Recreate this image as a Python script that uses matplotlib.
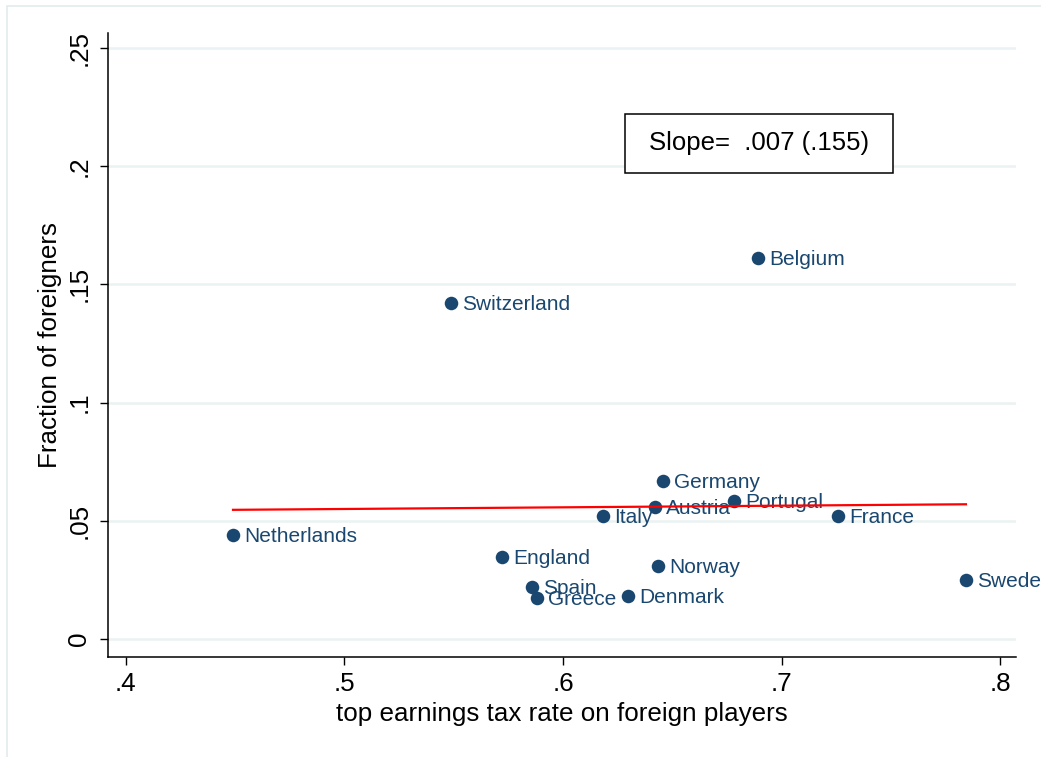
import numpy as np
import matplotlib.pyplot as plt
from matplotlib.patches import Rectangle

countries = ['Netherlands', 'Switzerland', 'Belgium', 'Germany', 'Austria', 'Portugal',
             'Italy', 'France', 'England', 'Norway', 'Spain', 'Greece', 'Denmark', 'Sweden']
tax_rate = [0.449, 0.5487, 0.6892, 0.6458, 0.6421, 0.6783,
            0.6183, 0.7259, 0.5721, 0.6435, 0.5858, 0.5880, 0.6297, 0.7844]
frac_foreign = [0.0440, 0.1421, 0.1612, 0.0668, 0.0558, 0.0584,
                0.0520, 0.0520, 0.0347, 0.0309, 0.0220, 0.0173, 0.0182, 0.0250]

# fitted line
fit_slope = 0.007
fit_intercept = 0.0515
slope_text = 'Slope=  .007 (.155)'

xticks = [0.4, 0.5, 0.6, 0.7, 0.8]
xticklabels = ['.4', '.5', '.6', '.7', '.8']
yticks = [0, 0.05, 0.1, 0.15, 0.2, 0.25]
yticklabels = ['0', '.05', '.1', '.15', '.2', '.25']

plt.rcParams['font.family'] = ['Liberation Sans', 'DejaVu Sans']
navy = '#1a476f'

fig = plt.figure(figsize=(10.41, 7.57), dpi=100)
W, H = 1041, 757
ax = fig.add_axes([108 / W, 1 - 657 / H, (1016 - 108) / W, (657 - 33) / H])

# light outer border (graph region)
fig.patches.append(Rectangle((7 / W, -0.1), 1.2, 1 - 6 / H + 0.1, transform=fig.transFigure,
                             fill=False, edgecolor='#e3ebed', linewidth=1.2, zorder=0))

ax.scatter(tax_rate, frac_foreign, s=95, color=navy, zorder=3, linewidths=0)
for name, x, y in zip(countries, tax_rate, frac_foreign):
    ax.annotate(name, (x, y), xytext=(8, -1), textcoords='offset points',
                va='center', ha='left', fontsize=15, color=navy, zorder=4,
                annotation_clip=False)

xs = np.array([min(tax_rate), max(tax_rate)])
ax.plot(xs, fit_intercept + fit_slope * xs, color='red', linewidth=1.6, zorder=5)

# slope box
ax.add_patch(Rectangle((0.6284, 0.1971), 0.751 - 0.6284, 0.2221 - 0.1971,
                       facecolor='white', edgecolor='black', linewidth=1.1, zorder=6))
ax.text((0.6284 + 0.751) / 2, (0.1971 + 0.2221) / 2, slope_text, ha='center', va='center',
        fontsize=18.5, zorder=7)

ax.set_xlim(0.3918, 0.8073)
ax.set_ylim(-0.0076, 0.2563)
ax.set_xticks(xticks)
ax.set_xticklabels(xticklabels)
ax.set_yticks(yticks)
ax.set_yticklabels(yticklabels, rotation=90, va='center')
ax.tick_params(axis='both', labelsize=18.7, length=6, width=1, direction='out')
ax.tick_params(axis='x', pad=5)
ax.tick_params(axis='y', pad=6)

ax.grid(axis='y', color='#eaf2f3', linewidth=1.8, zorder=0)
ax.set_axisbelow(True)
for side in ['top', 'right']:
    ax.spines[side].set_visible(False)
for side in ['left', 'bottom']:
    ax.spines[side].set_linewidth(1.1)

ax.set_xlabel('top earnings tax rate on foreign players', fontsize=18.7, labelpad=4)
ax.set_ylabel('Fraction of foreigners', fontsize=18.7, labelpad=4)

fig.savefig('out.png', dpi=100)
